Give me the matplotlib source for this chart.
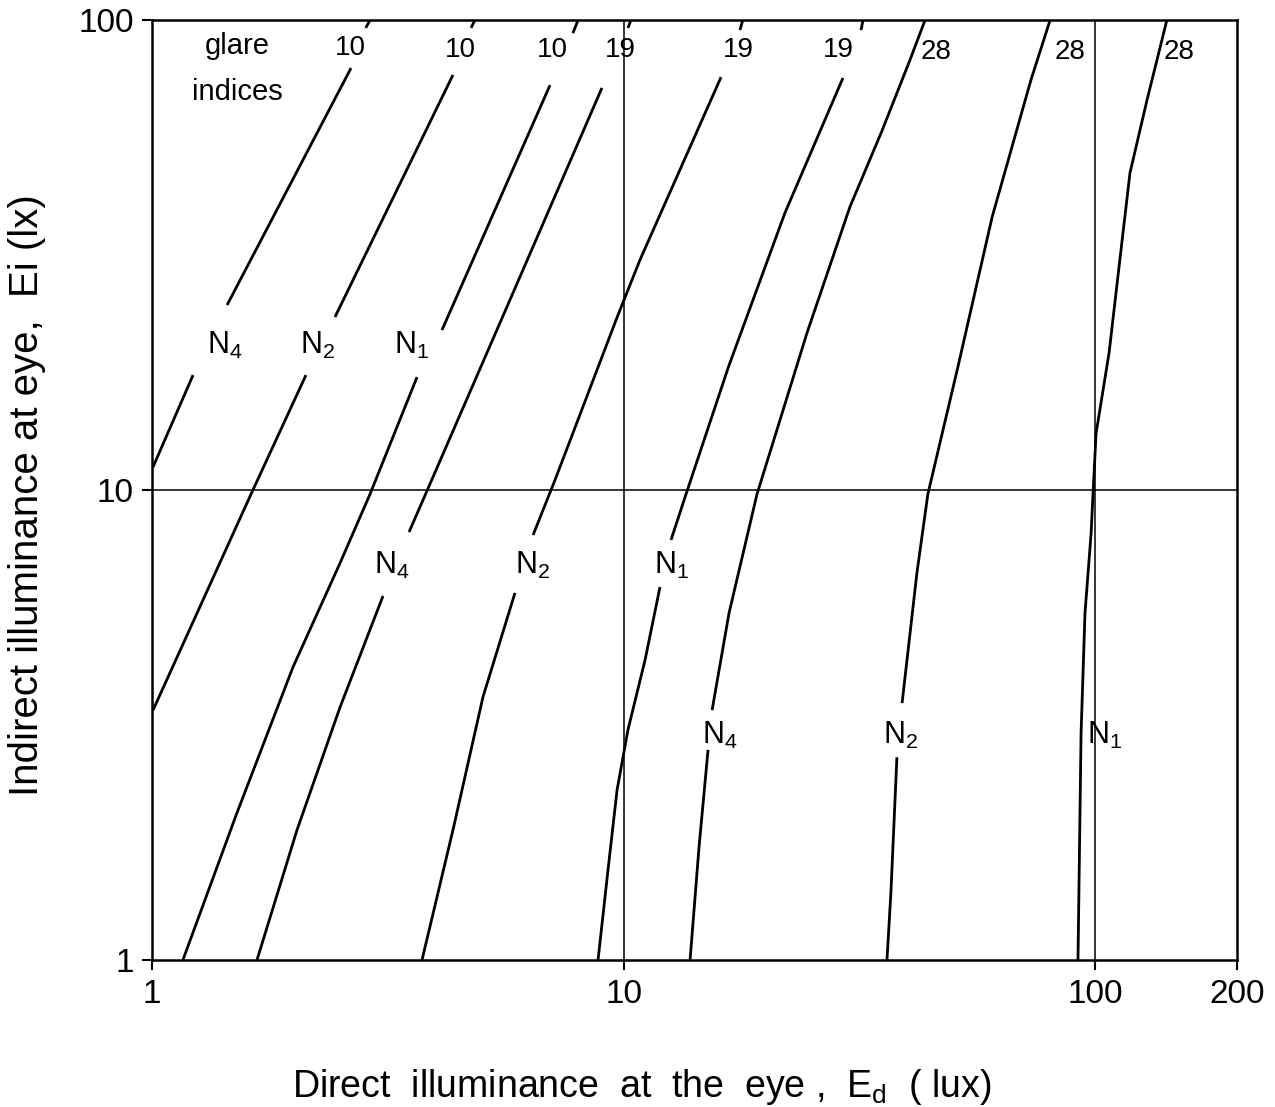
import matplotlib
matplotlib.use("Agg")
import matplotlib.pyplot as plt
import numpy as np

plt.rcParams['font.family'] = ['Liberation Sans', 'DejaVu Sans']
plt.rcParams['mathtext.fontset'] = 'custom'
plt.rcParams['mathtext.rm'] = 'Liberation Sans'
plt.rcParams['mathtext.it'] = 'Liberation Sans'

# ---- data: glare-index contours, each split into drawn segments (Ed, Ei) ----
g10_N4 = [[(1.005, 11.19), (1.222, 17.56)],
          [(1.443, 24.75), (2.643, 79.04)],
          [(2.84, 96.2), (2.90, 100)]]
g10_N2 = [[(1.005, 3.40), (1.622, 9.80), (2.121, 17.56)],
          [(2.444, 23.34), (4.348, 76.4)],
          [(4.75, 96.2), (4.84, 100)]]
g10_N1 = [[(1.163, 1.0), (1.514, 2.055), (1.991, 4.20), (2.505, 6.99),
           (2.900, 9.80), (3.648, 17.39)],
          [(4.121, 21.9), (6.985, 72.7)],
          [(7.81, 93.8), (8.01, 100)]]
g19_N4 = [[(1.670, 1.0), (2.030, 1.89), (2.505, 3.45), (3.090, 5.95)],
          [(3.509, 8.14), (3.756, 9.52), (5.745, 25.4), (9.00, 71.7)],
          [(10.22, 96.2), (10.37, 100)]]
g19_N2 = [[(3.738, 1.0), (4.348, 1.89), (5.035, 3.63), (5.886, 6.04)],
          [(6.43, 8.02), (7.156, 10.5), (9.69, 23.3), (10.84, 30.9), (16.1, 75.6)],
          [(17.66, 95.2), (17.9, 100)]]
g19_N1 = [[(8.83, 1.0), (9.27, 1.554), (9.69, 2.30), (10.22, 3.09),
           (11.11, 4.35), (11.95, 6.22)],
          [(12.61, 7.83), (13.57, 9.80), (16.7, 18.3), (22.0, 38.9), (29.2, 75.3)],
          [(31.9, 95.2), (32.2, 100)]]
g28_N4 = [[(13.84, 1.0), (14.46, 1.74), (15.11, 2.80)],
          [(15.41, 3.40), (16.74, 5.47), (19.19, 9.80), (21.8, 14.8), (24.5, 21.6),
           (27.3, 29.7), (30.2, 40.0), (35.3, 58.0), (40.5, 82.2), (43.6, 100)]]
g28_N2 = [[(36.2, 1.0), (36.9, 1.39), (38.0, 2.70)],
          [(38.97, 3.52), (41.9, 6.66), (44.2, 9.80), (51.2, 18.3),
           (60.5, 38.1), (73.1, 74.5), (80.3, 100)]]
g28_N1 = [[(92.0, 1.0), (93.4, 3.04), (95.2, 5.47), (98.1, 8.10), (99.0, 9.80),
           (100.5, 13.2), (107.1, 19.6), (112.4, 29.8), (118.6, 47.3),
           (128.9, 67.6), (142.0, 100)]]

curves = [g10_N4, g10_N2, g10_N1, g19_N4, g19_N2, g19_N1, g28_N4, g28_N2, g28_N1]

# curve labels: (text, Ed, Ei)
n_labels = [("N$_4$", 1.43, 20.3), ("N$_2$", 2.25, 20.3), ("N$_1$", 3.56, 20.3),
            ("N$_4$", 3.23, 6.92), ("N$_2$", 6.43, 6.92), ("N$_1$", 12.67, 6.92),
            ("N$_4$", 16.0, 3.01), ("N$_2$", 38.6, 3.01), ("N$_1$", 105.0, 3.01)]
glare_labels = [("10", 2.63, 87.0), ("10", 4.50, 86.3), ("10", 7.05, 86.3),
                ("19", 9.83, 86.3), ("19", 17.5, 86.3), ("19", 28.5, 86.3),
                ("28", 46.0, 85.5), ("28", 88.5, 85.5), ("28", 151.0, 85.5)]

x_ticks = [1, 10, 100, 200]
y_ticks = [1, 10, 100]
x_grid = [10, 100]
y_grid = [10]

fig = plt.figure(figsize=(12.75, 11.07), dpi=100)
ax = fig.add_axes([0.1192, 0.1328, 0.9702 - 0.1192, 0.9819 - 0.1328])
ax.set_xscale('log')
ax.set_yscale('log')
ax.set_xlim(1, 200)
ax.set_ylim(1, 100)

for xv in x_grid:
    ax.axvline(xv, color='black', lw=1.1, zorder=1)
for yv in y_grid:
    ax.axhline(yv, color='black', lw=1.1, zorder=1)

for c in curves:
    for seg in c:
        xs, ys = zip(*seg)
        ax.plot(xs, ys, color='black', lw=2.0, solid_capstyle='butt',
                solid_joinstyle='round', zorder=2)

for t, xv, yv in n_labels:
    ax.text(xv, yv, t, ha='center', va='center', fontsize=22)
for t, xv, yv in glare_labels:
    ax.text(xv, yv, t, ha='center', va='center', fontsize=20)
ax.text(1.514, 88.0, "glare", ha='center', va='center', fontsize=21)
ax.text(1.52, 70.3, "indices", ha='center', va='center', fontsize=21)

ax.set_xticks(x_ticks)
ax.set_xticklabels([str(v) for v in x_ticks])
ax.set_yticks(y_ticks)
ax.set_yticklabels([str(v) for v in y_ticks])
ax.minorticks_off()
ax.tick_params(axis='both', which='major', direction='out', length=7, width=1.5,
               labelsize=24, colors='black')
ax.tick_params(axis='x', pad=7)
ax.tick_params(axis='y', pad=6)
for s in ax.spines.values():
    s.set_linewidth(1.8)

fig.text(642 / 1275, 1 - 1097 / 1107,
         "Direct  illuminance  at  the  eye ,  E$_\\mathregular{d}$  ( lux)",
         fontsize=27, ha='center', va='baseline')
fig.text(27 / 1275, 1 - 495 / 1107, "Indirect illuminance at eye,  Ei (lx)",
         fontsize=29, ha='center', va='center', rotation=90)

fig.savefig("out.png", dpi=100)
